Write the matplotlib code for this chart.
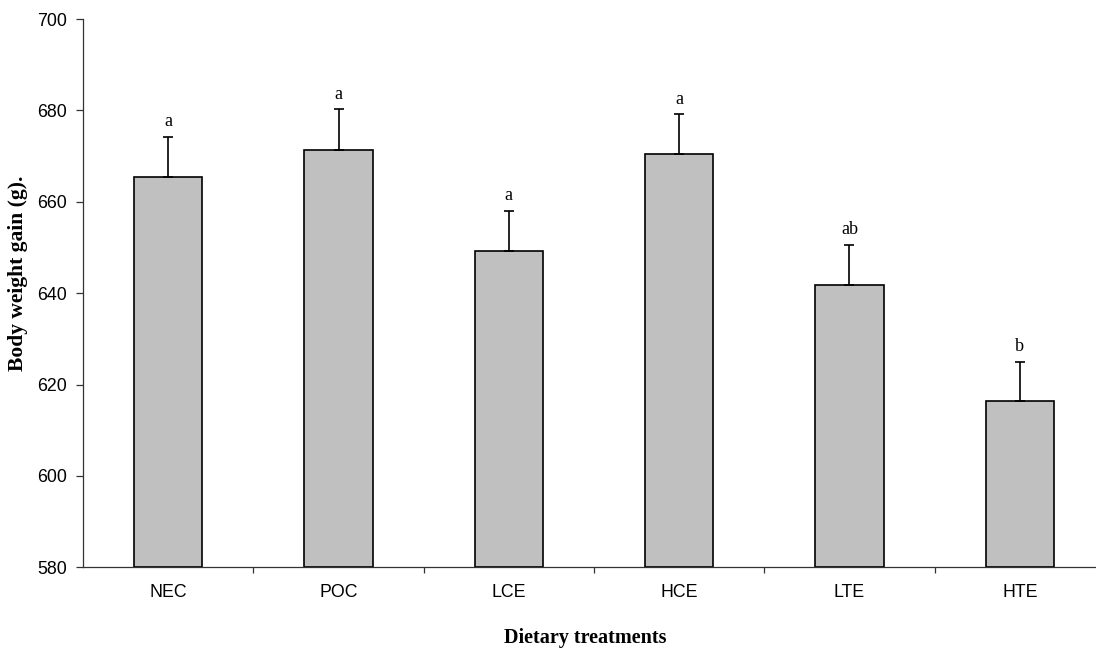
import numpy as np
import matplotlib
matplotlib.use("Agg")
import matplotlib.pyplot as plt

# ---- data ----
treatments = ["NEC", "POC", "LCE", "HCE", "LTE", "HTE"]
gain = [665.4, 671.4, 649.2, 670.4, 641.8, 616.4]
se = [8.8, 8.8, 8.8, 8.7, 8.7, 8.6]
letters = ["a", "a", "a", "a", "ab", "b"]

fig = plt.figure(figsize=(10.96, 6.52), dpi=100)
# axes runs a little past the right edge, as in the original
ax = fig.add_axes([83 / 1096, 1 - 567.3 / 652, 1022 / 1096, 548.3 / 652])

x = np.arange(len(treatments))
ax.bar(x, np.array(gain) - 580, bottom=580, width=0.4, color="#c0c0c0",
       edgecolor="black", linewidth=1.2, zorder=2)
ax.errorbar(x, gain, yerr=[np.zeros(len(se)), se], fmt="none", ecolor="black",
            elinewidth=1.2, capsize=3.8, capthick=1.2, zorder=3)

for xi, g, s, lab in zip(x, gain, se, letters):
    ax.annotate(lab, (xi, g + s), xytext=(0, 5), textcoords="offset points",
                ha="center", va="bottom", fontsize=13, family="Liberation Serif")

ax.set_xlim(-0.5, len(treatments) - 0.5)
ax.set_ylim(580, 700)
ax.set_yticks(np.arange(580, 701, 20))
ax.set_xticks(x)
ax.set_xticklabels(treatments)
ax.set_xticks(np.arange(0.5, len(treatments) - 0.5, 1), minor=True)

for sp in ["top", "right"]:
    ax.spines[sp].set_visible(False)
for sp in ["left", "bottom"]:
    ax.spines[sp].set_linewidth(0.9)
    ax.spines[sp].set_color("#333333")

ax.tick_params(axis="x", which="major", length=0, pad=12, labelsize=12.8)
ax.tick_params(axis="x", which="minor", length=4, width=0.9, color="#333333")
ax.tick_params(axis="y", length=5, width=0.9, color="#333333", pad=6.5, labelsize=12.8)
for t in ax.get_xticklabels() + ax.get_yticklabels():
    t.set_family("Liberation Sans")

fig.text(18 / 1096, 1 - 273 / 652, "Body weight gain (g).", rotation=90,
         ha="center", va="center", fontsize=15.5, fontweight="bold",
         family="Liberation Serif")
fig.text(585 / 1096, 1 - 638 / 652, "Dietary treatments", ha="center",
         va="center", fontsize=14.5, fontweight="bold", family="Liberation Serif")

fig.savefig("out.png", dpi=100)
